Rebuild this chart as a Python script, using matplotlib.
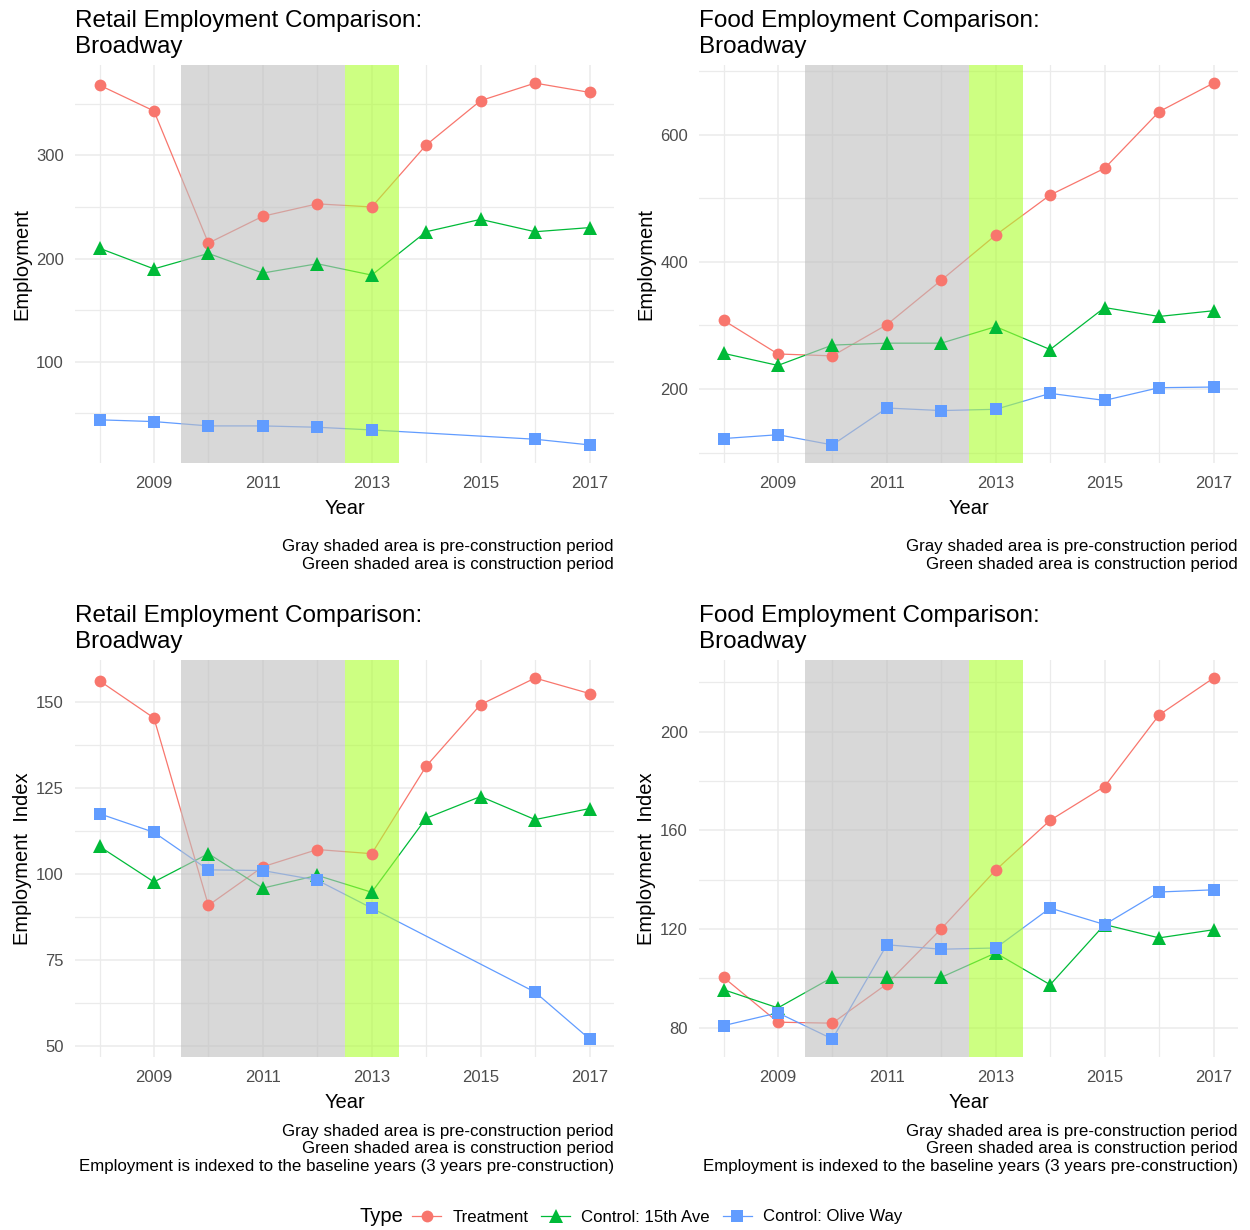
import numpy as np
import matplotlib
matplotlib.use("Agg")
import matplotlib.pyplot as plt
from matplotlib.lines import Line2D

plt.rcParams['font.family'] = ['Liberation Sans', 'DejaVu Sans']

years = [2008, 2009, 2010, 2011, 2012, 2013, 2014, 2015, 2016, 2017]
olive_years_retail = [2008, 2009, 2010, 2011, 2012, 2013, 2016, 2017]

# Retail employment (counts)
retail_treat = [368, 343, 215, 241, 253, 250, 310, 353, 370, 361]
retail_15th = [210, 190, 205, 186, 195, 184, 226, 238, 226, 230]
retail_olive = [43.8, 42.1, 37.9, 37.9, 36.6, 34, 25, 19.5]

# Food employment (counts)
food_treat = [308, 255, 252, 301, 371, 442, 505, 547, 636, 681]
food_15th = [256, 237, 269, 272, 272, 298, 262, 328, 314, 323]
food_olive = [122, 128, 112, 170, 166, 168, 193, 182, 202, 203]

# Retail index
retail_idx_treat = [156.1, 145.3, 90.9, 102.1, 107.1, 105.9, 131.3, 149.2, 156.9, 152.4]
retail_idx_15th = [108.0, 97.7, 105.9, 95.9, 99.6, 94.7, 116.2, 122.5, 115.8, 119.0]
retail_idx_olive = [117.5, 112.1, 101.2, 101.0, 98.2, 90.1, 65.7, 52.1]

# Food index
food_idx_treat = [100.4, 82.2, 81.8, 97.7, 120.1, 143.9, 164.1, 177.8, 206.8, 221.8]
food_idx_15th = [95.4, 88.0, 100.4, 100.4, 100.4, 110.3, 97.4, 121.8, 116.4, 119.7]
food_idx_olive = [80.8, 86.0, 75.4, 113.6, 111.8, 112.3, 128.5, 121.8, 135.0, 135.9]

series_labels = ["Treatment", "Control: 15th Ave", "Control: Olive Way"]
colors = ["#F8766D", "#00BA38", "#619CFF"]
markers = ["o", "^", "s"]
msizes = [8.5, 9.5, 8.5]

x_major = [2009, 2011, 2013, 2015, 2017]

W, H = 1250, 1230
fig = plt.figure(figsize=(W / 100, H / 100), dpi=100)


def fx(x):
    return x / W


def fy(y):
    return 1 - y / H


panels = [
    dict(box=(75, 65, 614, 463), title="Retail Employment Comparison:", ylabel="Employment",
         data=[(years, retail_treat), (years, retail_15th), (olive_years_retail, retail_olive)],
         ymaj=[100, 200, 300], ymin=[50, 150, 250, 350], idx=False),
    dict(box=(699, 65, 1238, 463), title="Food Employment Comparison:", ylabel="Employment",
         data=[(years, food_treat), (years, food_15th), (years, food_olive)],
         ymaj=[200, 400, 600], ymin=[100, 300, 500, 700], idx=False),
    dict(box=(75, 660, 614, 1057), title="Retail Employment Comparison:", ylabel="Employment  Index",
         data=[(years, retail_idx_treat), (years, retail_idx_15th), (olive_years_retail, retail_idx_olive)],
         ymaj=[50, 75, 100, 125, 150], ymin=[62.5, 87.5, 112.5, 137.5], idx=True),
    dict(box=(699, 660, 1238, 1057), title="Food Employment Comparison:", ylabel="Employment  Index",
         data=[(years, food_idx_treat), (years, food_idx_15th), (years, food_idx_olive)],
         ymaj=[80, 120, 160, 200], ymin=[100, 140, 180, 220], idx=True),
]

for p in panels:
    x0, y0, x1, y1 = p["box"]
    ax = fig.add_axes([fx(x0), fy(y1), fx(x1 - x0), (y1 - y0) / H])
    allv = np.concatenate([np.asarray(v, float) for _, v in p["data"]])
    lo, hi = allv.min(), allv.max()
    pad = (hi - lo) * 0.05
    ax.set_ylim(lo - pad, hi + pad)
    ax.set_xlim(2008 - 0.45, 2017 + 0.45)
    for s in ax.spines.values():
        s.set_visible(False)
    ax.set_xticks(x_major)
    ax.set_xticks([2008, 2010, 2012, 2014, 2016], minor=True)
    ax.set_yticks(p["ymaj"])
    ax.set_yticks(p["ymin"], minor=True)
    ax.tick_params(which="both", length=0)
    ax.tick_params(axis="x", labelsize=12, labelcolor="#4D4D4D", pad=9)
    ax.tick_params(axis="y", labelsize=12, labelcolor="#4D4D4D", pad=8)
    ax.grid(which="major", color="#EBEBEB", lw=1.1, zorder=0)
    ax.grid(which="minor", color="#EBEBEB", lw=0.9, zorder=0)
    ax.set_axisbelow(True)
    # lines
    for (xs, ys), c in zip(p["data"], colors):
        ax.plot(xs, ys, color=c, lw=0.9, zorder=2)
    # shading
    ax.axvspan(2009.5, 2012.5, color="#BEBEBE", alpha=0.6, lw=0, zorder=3)
    ax.axvspan(2012.5, 2013.5, color="#ADFF2F", alpha=0.6, lw=0, zorder=3)
    # points
    for (xs, ys), c, m, ms in zip(p["data"], colors, markers, msizes):
        ax.plot(xs, ys, ls="none", marker=m, ms=ms, color=c, mec=c, mew=0, zorder=4)
    ax.set_xlabel("Year", fontsize=14.5, labelpad=6)
    ax.set_ylabel(p["ylabel"], fontsize=14.5, labelpad=3)
    # titles
    fig.text(fx(x0), fy(y0 - 38), p["title"], fontsize=17.5, ha="left", va="baseline")
    fig.text(fx(x0), fy(y0 - 12), "Broadway", fontsize=17.5, ha="left", va="baseline")
    # captions
    caps = ["Gray shaded area is pre-construction period",
            "Green shaded area is construction period"]
    off = 88
    if p["idx"]:
        caps.append("Employment is indexed to the baseline years (3 years pre-construction)")
        off = 79
    for i, t in enumerate(caps):
        fig.text(fx(x1), fy(y1 + off + i * 17.5), t, fontsize=12.2, ha="right", va="baseline")

# legend
handles = [Line2D([0], [0], color=c, lw=0.9, marker=m, ms=ms, mew=0)
           for c, m, ms in zip(colors, markers, msizes)]
fig.text(fx(360), fy(1217), "Type", fontsize=14.5, ha="left", va="center")
fig.legend(handles, series_labels, ncol=3, loc="center left",
           bbox_to_anchor=(fx(412), fy(1217)), frameon=False, fontsize=12.1,
           handlelength=1.75, handletextpad=0.65, columnspacing=0.75, borderaxespad=0,
           borderpad=0)

fig.savefig("out.png", dpi=100)
